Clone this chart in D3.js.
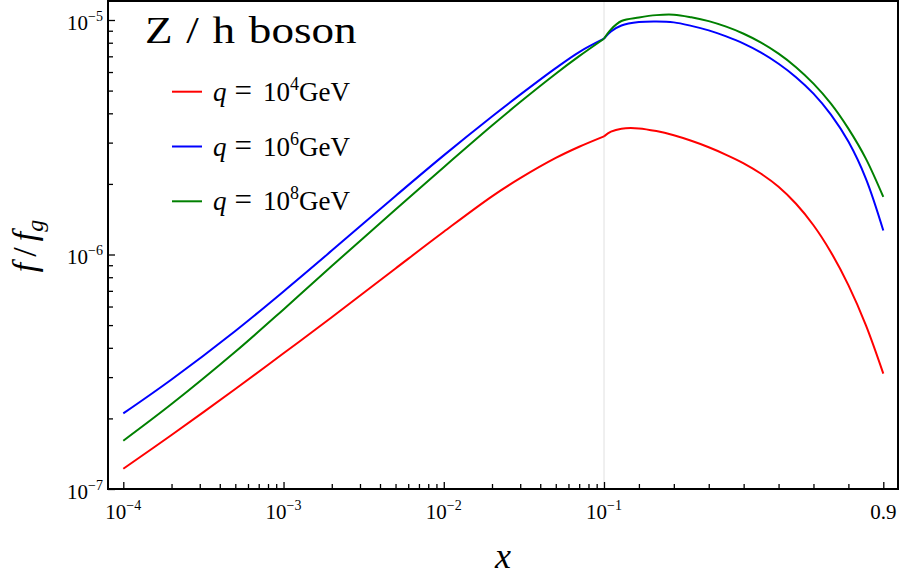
<!DOCTYPE html>
<html>
<head>
<meta charset="utf-8">
<script src="https://cdn.jsdelivr.net/npm/d3@7"></script>
<style>
  body { margin: 0; background: #fff; }
  .tick line { stroke: #000; stroke-width: 1.3; }
</style>
</head>
<body>
<div id="chart"></div>
<script>
var SERIF = "'Liberation Serif', 'Times New Roman', serif";

// x values: log axis up to 0.1, linear axis above
var xsLog = [1e-4, 2e-4, 5e-4, 1e-3, 2e-3, 5e-3, 1e-2, 2e-2, 3e-2, 5e-2, 7e-2, 0.1];
var xsLin = [0.1, 0.12, 0.15, 0.2, 0.25, 0.3, 0.35, 0.4, 0.45, 0.5, 0.55, 0.6, 0.65, 0.7, 0.75, 0.8, 0.85, 0.9];

var redLog   = [1.22e-7, 1.70e-7, 2.67e-7, 3.79e-7, 5.40e-7, 8.72e-7, 1.25e-6, 1.77e-6, 2.115e-6, 2.58e-6, 2.88e-6, 3.19e-6];
var blueLog  = [2.10e-7, 2.93e-7, 4.72e-7, 6.96e-7, 1.039e-6, 1.777e-6, 2.647e-6, 3.877e-6, 4.805e-6, 6.235e-6, 7.30e-6, 8.32e-6];
var greenLog = [1.606e-7, 2.302e-7, 3.847e-7, 5.83e-7, 8.93e-7, 1.555e-6, 2.356e-6, 3.546e-6, 4.468e-6, 5.90e-6, 7.01e-6, 8.32e-6];

var redLin   = [3.19e-6, 3.34e-6, 3.44e-6, 3.45e-6, 3.36e-6, 3.223e-6, 3.054e-6, 2.866e-6, 2.662e-6, 2.449e-6,
                2.21e-6, 1.945e-6, 1.646e-6, 1.333e-6, 1.023e-6, 7.40e-7, 4.997e-7, 3.105e-7];
var blueLin  = [8.32e-6, 8.94e-6, 9.48e-6, 9.80e-6, 9.86e-6, 9.77e-6, 9.44e-6, 9.03e-6, 8.51e-6, 7.93e-6,
                7.26e-6, 6.51e-6, 5.705e-6, 4.853e-6, 3.95e-6, 3.03e-6, 2.108e-6, 1.266e-6];
var greenLin = [8.32e-6, 9.12e-6, 9.90e-6, 1.025e-5, 1.049e-5, 1.0534e-5, 1.0268e-5, 9.89e-6, 9.365e-6, 8.74e-6,
                8.01e-6, 7.186e-6, 6.295e-6, 5.353e-6, 4.399e-6, 3.442e-6, 2.564e-6, 1.76e-6];

var seriesNames  = ["4", "6", "8"];
var seriesColors = ["#ff0000", "#0000ff", "#008000"];
var seriesLog = [redLog, blueLog, greenLog];
var seriesLin = [redLin, blueLin, greenLin];

// ticks
var xMajorLog = [1e-4, 1e-3, 1e-2, 1e-1];
var xMajorLogExp = ["\u22124", "\u22123", "\u22122", "\u22121"];
var xMinorLin = [0.2, 0.3, 0.4, 0.5, 0.6, 0.7, 0.8];
var xMajorLin = [0.9];
var yMajor = [1e-7, 1e-6, 1e-5];
var yMajorExp = ["\u22127", "\u22126", "\u22125"];

var width = 900, height = 586;
var frame = {left: 108, right: 898, top: 1, bottom: 489};

var svg = d3.select("#chart").append("svg")
    .attr("width", width)
    .attr("height", height)
    .attr("font-family", SERIF);

/* Scales */
var xLog = d3.scaleLog().domain([1e-4, 0.1]).range([123.3, 604]);
var xLin = d3.scaleLinear().domain([0.1, 0.9]).range([604, 883.3]);
var y = d3.scaleLog().domain([1e-7, 1e-5]).range([489, 20]);

var xMinorLog = [];
[1e-4, 1e-3, 1e-2].forEach(function(d) {
    for (var k = 2; k <= 9; k++) xMinorLog.push(d * k);
});
var yMinor = [];
[1e-7, 1e-6].forEach(function(d) {
    for (var k = 2; k <= 9; k++) yMinor.push(d * k);
});

/* separator at x = 0.1 */
svg.append("line")
    .attr("x1", xLog(0.1)).attr("x2", xLog(0.1))
    .attr("y1", frame.top).attr("y2", frame.bottom)
    .attr("stroke", "#e0e0e0").attr("stroke-width", 1);

/* Curves - one piece per axis segment */
function makeLine(xs) {
    return d3.line()
        .x(function(d) { return xs(d[0]); })
        .y(function(d) { return y(d[1]); })
        .curve(d3.curveCatmullRom.alpha(0.5));
}
var lineLog = makeLine(xLog), lineLin = makeLine(xLin);

seriesColors.forEach(function(color, i) {
    [[xsLog, seriesLog[i], lineLog], [xsLin, seriesLin[i], lineLin]].forEach(function(p) {
        svg.append("path")
            .datum(p[0].map(function(x, j) { return [x, p[1][j]]; }))
            .attr("fill", "none")
            .attr("stroke", color)
            .attr("stroke-width", 2)
            .attr("stroke-linejoin", "round")
            .attr("d", p[2]);
    });
});

/* Axes (ticks point inward) */
function tickGroup(axis, tx, ty) {
    var g = svg.append("g").attr("transform", "translate(" + tx + "," + ty + ")").call(axis);
    g.select(".domain").remove();
    g.selectAll("text").remove();
    return g;
}
tickGroup(d3.axisBottom(xLog).tickValues(xMajorLog).tickSize(-7), 0, frame.bottom);
tickGroup(d3.axisBottom(xLog).tickValues(xMinorLog).tickSize(-5), 0, frame.bottom);
tickGroup(d3.axisBottom(xLin).tickValues(xMinorLin).tickSize(-5), 0, frame.bottom);
tickGroup(d3.axisBottom(xLin).tickValues(xMajorLin).tickSize(-7), 0, frame.bottom);
tickGroup(d3.axisLeft(y).tickValues(yMajor).tickSize(-7), frame.left, 0);
tickGroup(d3.axisLeft(y).tickValues(yMinor).tickSize(-5), frame.left, 0);

/* Frame */
svg.append("rect")
    .attr("x", frame.left).attr("y", frame.top)
    .attr("width", frame.right - frame.left)
    .attr("height", frame.bottom - frame.top)
    .attr("fill", "none").attr("stroke", "#000").attr("stroke-width", 2);

/* Tick labels */
function powLabel(t, exp) {
    t.append("tspan").text("10");
    t.append("tspan").attr("dy", -9).attr("font-size", 14).text(exp);
}
xMajorLog.forEach(function(v, i) {
    var t = svg.append("text")
        .attr("x", xLog(v)).attr("y", 519)
        .attr("text-anchor", "middle").attr("font-size", 21);
    powLabel(t, xMajorLogExp[i]);
});
svg.append("text")
    .attr("x", xLin(0.9)).attr("y", 519)
    .attr("text-anchor", "middle").attr("font-size", 21)
    .text("0.9");
yMajor.forEach(function(v, i) {
    var t = svg.append("text")
        .attr("x", 103).attr("y", y(v) + 9.5)
        .attr("text-anchor", "end").attr("font-size", 21);
    powLabel(t, yMajorExp[i]);
});

/* Axis titles */
svg.append("text")
    .attr("x", 503).attr("y", 568)
    .attr("text-anchor", "middle")
    .attr("font-size", 36).attr("font-style", "italic")
    .text("x");

var yl = svg.append("text")
    .attr("transform", "translate(36,246) rotate(-90)")
    .attr("text-anchor", "middle")
    .attr("font-size", 34).attr("font-style", "italic");
yl.append("tspan").text("f");
yl.append("tspan").attr("font-style", "normal").attr("dx", 6).text("/");
yl.append("tspan").attr("dx", 6).text("f");
yl.append("tspan").attr("font-size", 24).attr("dy", 7).text("g");

/* Title and legend */
svg.append("text")
    .attr("transform", "translate(145,43) scale(1.22,1)")
    .attr("font-size", 37)
    .attr("word-spacing", 2)
    .text("Z / h boson");

seriesNames.forEach(function(name, i) {
    var ly = 91.7 + i * 54.8;
    svg.append("line")
        .attr("x1", 172).attr("x2", 202)
        .attr("y1", ly).attr("y2", ly)
        .attr("stroke", seriesColors[i]).attr("stroke-width", 2);
    var t = svg.append("text")
        .attr("x", 213).attr("y", ly + 9)
        .attr("font-size", 27);
    t.append("tspan").attr("font-style", "italic").text("q");
    t.append("tspan").attr("dx", 8).attr("font-size", 31).text("=");
    t.append("tspan").attr("dx", 11).text("10");
    t.append("tspan").attr("dy", -11).attr("font-size", 18).text(name);
    t.append("tspan").attr("dy", 11).text("GeV");
});
</script>
</body>
</html>
